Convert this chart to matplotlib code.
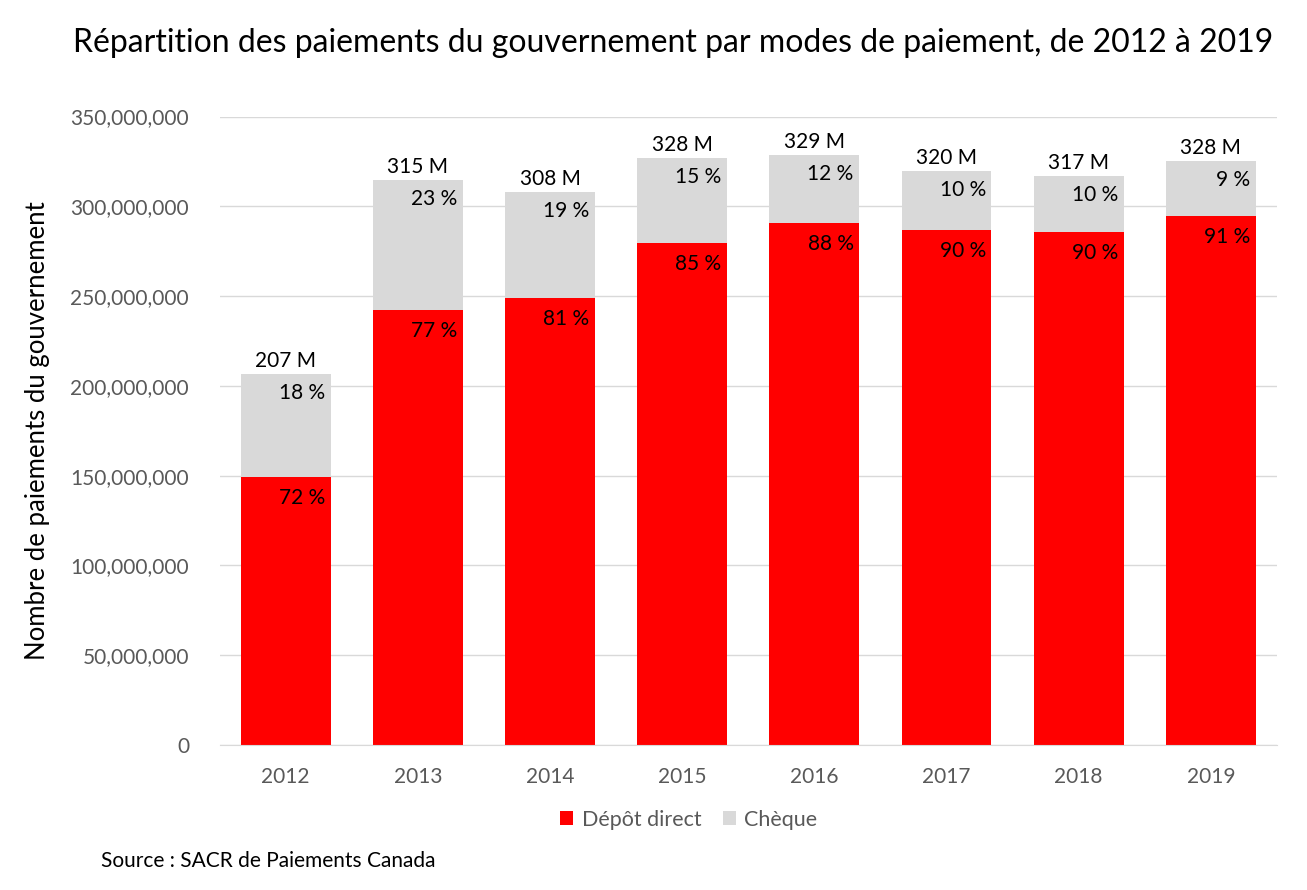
import numpy as np
import matplotlib
matplotlib.use("Agg")
import matplotlib.pyplot as plt
from matplotlib.ticker import FuncFormatter

plt.rcParams['font.family'] = ['Lato', 'DejaVu Sans']

# data
years = ["2012", "2013", "2014", "2015", "2016", "2017", "2018", "2019"]
depot = [149.4e6, 242.4e6, 249.1e6, 279.8e6, 290.9e6, 287.0e6, 285.9e6, 294.8e6]
cheque = [57.4e6, 72.5e6, 59.1e6, 47.3e6, 37.9e6, 32.9e6, 31.2e6, 30.7e6]
total_labels = ["207 M", "315 M", "308 M", "328 M", "329 M", "320 M", "317 M", "328 M"]
depot_pct = ["72 %", "77 %", "81 %", "85 %", "88 %", "90 %", "90 %", "91 %"]
cheque_pct = ["18 %", "23 %", "19 %", "15 %", "12 %", "10 %", "10 %", "9 %"]

red = "#FF0000"
grey = "#D9D9D9"

fig = plt.figure(figsize=(13.07, 8.9), dpi=100)
ax = fig.add_axes([0.168, 0.163, 0.809, 0.706])

x = np.arange(len(years))
w = 0.68
depot = np.array(depot)
cheque = np.array(cheque)
ax.bar(x, depot, w, color=red, label="Dépôt direct", zorder=2)
ax.bar(x, cheque, w, bottom=depot, color=grey, label="Chèque", zorder=2)

# labels
for i in range(len(years)):
    ax.annotate(depot_pct[i], (x[i] + w / 2, depot[i]), xytext=(-4, -8),
                textcoords="offset points", ha="right", va="top", fontsize=15)
    ax.annotate(cheque_pct[i], (x[i] + w / 2, depot[i] + cheque[i]), xytext=(-4, -7),
                textcoords="offset points", ha="right", va="top", fontsize=15)
    ax.annotate(total_labels[i], (x[i], depot[i] + cheque[i]), xytext=(0, 2),
                textcoords="offset points", ha="center", va="bottom", fontsize=15)

ax.set_xlim(-0.5, len(years) - 0.5)
ax.set_ylim(0, 350e6)
ax.set_yticks(np.arange(0, 350e6 + 1, 50e6))
ax.yaxis.set_major_formatter(FuncFormatter(lambda v, p: "{:,.0f}".format(v)))
ax.set_xticks(x)
ax.set_xticklabels(years)
ax.tick_params(length=0, labelsize=15, labelcolor="#595959")
ax.tick_params(axis="x", pad=16)
ax.tick_params(axis="y", pad=22)
ax.grid(axis="y", color=grey, linewidth=1, zorder=0)
for s in ["top", "right", "left"]:
    ax.spines[s].set_visible(False)
ax.spines["bottom"].set_color(grey)

ax.set_ylabel("Nombre de paiements du gouvernement", fontsize=18.5, labelpad=15)
fig.text(0.515, 0.952, "Répartition des paiements du gouvernement par modes de paiement, de 2012 à 2019",
         ha="center", va="center", fontsize=23)

fig.legend(loc="center", bbox_to_anchor=(0.527, 0.079), ncol=2, frameon=False,
           fontsize=15.5, handlelength=0.6, handleheight=0.6, columnspacing=1.0,
           handletextpad=0.4, labelcolor="#595959")
fig.text(0.077, 0.033, "Source : SACR de Paiements Canada", ha="left", va="center", fontsize=15)

fig.savefig("out.png", dpi=100)
